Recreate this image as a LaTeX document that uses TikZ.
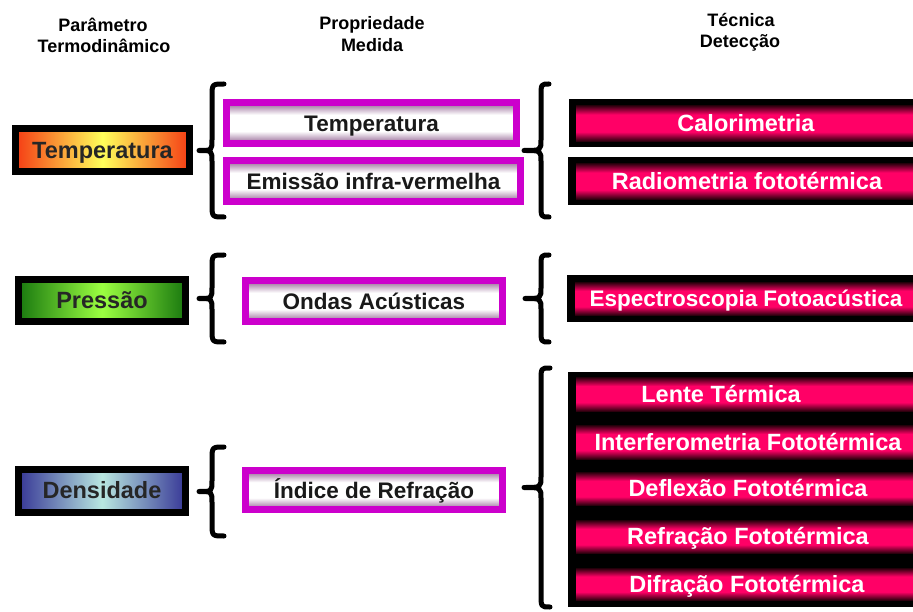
\documentclass[tikz,border=0pt]{standalone}
\usepackage{fontspec}
\setmainfont{Liberation Sans}
\usetikzlibrary{shadings}

\definecolor{tred}{RGB}{245,60,20}
\definecolor{tyel}{RGB}{255,255,90}
\definecolor{pdark}{RGB}{25,120,15}
\definecolor{plight}{RGB}{155,255,65}
\definecolor{ddark}{RGB}{55,55,150}
\definecolor{dlight}{RGB}{185,232,225}
\definecolor{mag}{RGB}{204,0,204}
\definecolor{mauve}{RGB}{145,95,145}
\definecolor{hotpink}{RGB}{255,0,102}
\definecolor{pinkdark}{RGB}{40,0,12}

\pgfdeclarehorizontalshading{tempsh}{100bp}{color(0bp)=(tred); color(25bp)=(tred); color(50bp)=(tyel); color(75bp)=(tred); color(100bp)=(tred)}
\pgfdeclarehorizontalshading{pressh}{100bp}{color(0bp)=(pdark); color(25bp)=(pdark); color(50bp)=(plight); color(75bp)=(pdark); color(100bp)=(pdark)}
\pgfdeclarehorizontalshading{denssh}{100bp}{color(0bp)=(ddark); color(25bp)=(ddark); color(50bp)=(dlight); color(75bp)=(ddark); color(100bp)=(ddark)}
\pgfdeclareverticalshading{midsh}{100bp}{color(0bp)=(mauve); color(25bp)=(mauve); color(40bp)=(white); color(60bp)=(white); color(75bp)=(mauve); color(100bp)=(mauve)}
\pgfdeclareverticalshading{barsh}{100bp}{color(0bp)=(pinkdark); color(25bp)=(pinkdark); color(38bp)=(hotpink); color(62bp)=(hotpink); color(75bp)=(pinkdark); color(100bp)=(pinkdark)}

\tikzset{
  hdr/.style={font=\fontsize{18}{21}\selectfont\bfseries, inner sep=0pt, anchor=base},
  parbox/.style={draw=black, line width=7pt, inner sep=0pt, text height=16.8pt, text depth=0pt, font=\fontsize{23.5}{26}\selectfont\bfseries, text=black!85},
  midbox/.style={draw=mag, line width=7pt, shading=midsh, inner sep=0pt, text height=16.1pt, text depth=0pt, font=\fontsize{22.5}{25}\selectfont\bfseries, text=black!90},
  barbox/.style={shading=barsh, inner sep=0pt, anchor=north west},
  bartext/.style={font=\fontsize{23.5}{26}\selectfont\bfseries, text height=16.8pt, text depth=0pt, text=white, inner sep=0pt},
  bracestyle/.style={line width=5pt, line cap=round, line join=round, black}
}

\newcommand\mybrace[5]{%
  \pgfmathsetmacro\bmid{(#4+#5)/2}%
  \pgfmathsetmacro\ba{#4+13}%
  \pgfmathsetmacro\bb{\bmid-11}%
  \pgfmathsetmacro\bc{\bmid+11}%
  \pgfmathsetmacro\bd{#5-13}%
  \draw[bracestyle] (#1,#4) .. controls (#2,#4) .. (#2,\ba) -- (#2,\bb) .. controls (#2,\bmid) .. (#3,\bmid) .. controls (#2,\bmid) .. (#2,\bc) -- (#2,\bd) .. controls (#2,#5) .. (#1,#5);
}

\begin{document}
\begin{tikzpicture}[x=1pt,y=-1pt]
\useasboundingbox (0,0) rectangle (913,612);
\fill[white] (0,0) rectangle (913,612);

% headers
\node[hdr] (h1a) at (103,32) {Parâmetro};
\node[hdr] (h1b) at (104,53) {Termodinâmico};
\node[hdr] (h2a) at (372,30) {Propriedade};
\node[hdr] (h2b) at (372,52) {Medida};
\node[hdr] (h3a) at (741,27) {Técnica};
\node[hdr] (h3b) at (740,48) {Detecção};

% left parameter boxes
\node[parbox, shading=tempsh, minimum width=174pt, minimum height=43pt] (ptemp) at (102.5,150) {Temperatura};
\node[parbox, shading=pressh, minimum width=167pt, minimum height=42pt] (ppres) at (102,300.5) {Pressão};
\node[parbox, shading=denssh, minimum width=167pt, minimum height=43pt] (pdens) at (102,490.5) {Densidade};

% middle property boxes
\node[midbox, minimum width=290pt, minimum height=41pt] (mtemp) at (371.5,123) {Temperatura};
\node[midbox, minimum width=294pt, minimum height=41pt] (memis) at (373.5,181) {Emissão infra-vermelha};
\node[midbox, minimum width=257pt, minimum height=41pt] (mondas) at (374,301) {Ondas Acústicas};
\node[midbox, minimum width=257pt, minimum height=39pt] (mindice) at (374,490) {Índice de Refração};

% right technique blocks (black backgrounds)
\fill[black] (569,99) rectangle (913,147);
\fill[black] (568,157) rectangle (913,205);
\fill[black] (567,275) rectangle (913,322);
\fill[black] (568,372) rectangle (913,607);

\node[barbox, minimum width=337pt, minimum height=36pt] (b1) at (576,105) {};
\node[barbox, minimum width=337pt, minimum height=36pt] (b2) at (576,163) {};
\node[barbox, minimum width=338pt, minimum height=33pt] (b3) at (575,282) {};
\node[barbox, minimum width=337pt, minimum height=34pt] (b4) at (576,377) {};
\node[barbox, minimum width=337pt, minimum height=34pt] (b5) at (576,425) {};
\node[barbox, minimum width=337pt, minimum height=33pt] (b6) at (576,472) {};
\node[barbox, minimum width=337pt, minimum height=33pt] (b7) at (576,520) {};
\node[barbox, minimum width=337pt, minimum height=32pt] (b8) at (576,568) {};

\node[bartext] (t1) at (746,123.5) {Calorimetria};
\node[bartext] (t2) at (747,181) {Radiometria fototérmica};
\node[bartext, font=\fontsize{22.5}{25}\selectfont\bfseries, text height=16.1pt] (t3) at (746,298.5) {Espectroscopia Fotoacústica};
\node[bartext] (t4) at (721,394) {Lente Térmica};
\node[bartext] (t5) at (748,442) {Interferometria Fototérmica};
\node[bartext] (t6) at (748,488.5) {Deflexão Fototérmica};
\node[bartext] (t7) at (748,536.5) {Refração Fototérmica};
\node[bartext] (t8) at (747,584) {Difração Fototérmica};

% braces
\mybrace{224}{212}{199}{84}{217}
\mybrace{549}{541}{524}{84}{217}
\mybrace{224}{212}{199}{255}{342}
\mybrace{549}{541}{525}{255}{342}
\mybrace{224}{212}{199}{447}{536}
\mybrace{550}{541}{524}{368}{607}
\end{tikzpicture}
\end{document}
